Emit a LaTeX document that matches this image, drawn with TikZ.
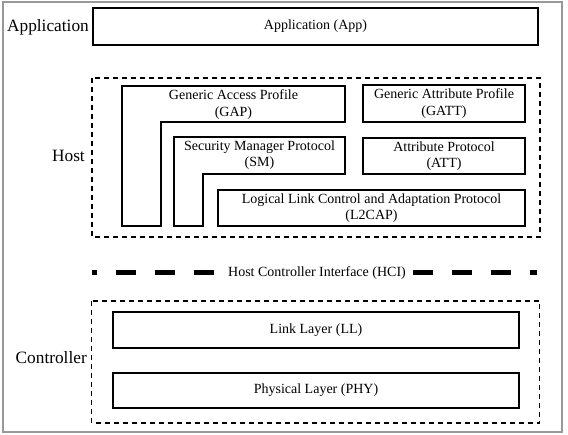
\documentclass[tikz,border=0pt]{standalone}
\usepackage{fontspec}
\setmainfont{Liberation Serif}
\begin{document}
\begin{tikzpicture}[x=1pt,y=-1pt,
  box/.style={draw=black,line width=1.6pt},
  boxnode/.style={box,inner sep=0pt,align=center,font=\intext},
  grp/.style={draw=black,line width=1.3pt,dash pattern=on 5pt off 4pt},
  lbl/.style={font=\lbltext,inner sep=0pt,anchor=base east},
  txt/.style={font=\intext,align=center,inner sep=0pt},
  hciline/.style={draw=black,line width=5pt,dash pattern=on 20pt off 19pt}]
\newcommand\intext{\fontsize{14}{16.5}\selectfont}
\newcommand\lbltext{\fontsize{17.3}{19}\selectfont}
\useasboundingbox (0,0) rectangle (568,435);
% outer frame
\draw[draw=black!40,line width=1.5pt] (3,2) rectangle (562,432);
% labels
\node[lbl] (lapp) at (89,32) {Application};
\node[lbl] (lhost) at (85,162) {Host};
\node[lbl] (lctrl) at (87,364) {Controller};
% application
\node[boxnode,minimum width=445pt,minimum height=37pt] (app) at (315.5,26.5) {Application (App)};
% host group
\draw[grp] (92,78) rectangle (540,237);
\coordinate (gap1) at (122,86);
\draw[box] (gap1) -- (345,86) -- (345,122) -- (161,122) -- (161,226) -- (122,226) -- cycle;
\node[txt] (gap) at (233.5,104.5) {Generic Access Profile\\(GAP)};
\coordinate (sm1) at (174,137);
\draw[box] (sm1) -- (345,137) -- (345,174) -- (203,174) -- (203,226) -- (174,226) -- cycle;
\node[txt] (sm) at (259.5,155) {Security Manager Protocol\\(SM)};
\node[boxnode,minimum width=162pt,minimum height=37pt] (gatt) at (444,103.5) {Generic Attribute Profile\\(GATT)};
\node[boxnode,minimum width=162pt,minimum height=36pt] (att) at (444,156) {Attribute Protocol\\(ATT)};
\node[boxnode,minimum width=307pt,minimum height=36pt] (l2cap) at (371.5,208) {Logical Link Control and Adaptation Protocol\\(L2CAP)};
% HCI
\node[txt] (hci) at (317,273) {Host Controller Interface (HCI)};
\coordinate (hciA) at (214,273);
\coordinate (hciB) at (92,273);
\coordinate (hciC) at (413,273);
\coordinate (hciD) at (537,273);
\draw[hciline] (hciA) -- (hciB);
\draw[hciline] (hciC) -- (hciD);
% controller group
\draw[grp] (91.5,301) rectangle (539.5,423);
\node[boxnode,minimum width=406pt,minimum height=36pt] (ll) at (316,330) {Link Layer (LL)};
\node[boxnode,minimum width=406pt,minimum height=35pt] (phy) at (316,390.5) {Physical Layer (PHY)};
\end{tikzpicture}
\end{document}
